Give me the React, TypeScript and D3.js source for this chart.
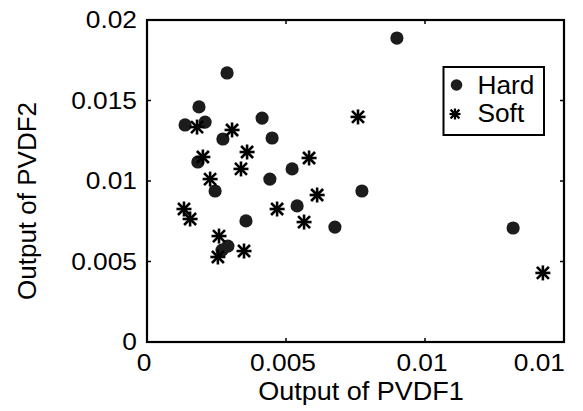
import React from "react";
import * as d3 from "d3";

const hardX = [0.00899, 0.00288, 0.00187, 0.00137, 0.00209, 0.00414, 0.0045, 0.00273, 0.00183, 0.00522, 0.00442, 0.00245, 0.00773, 0.0054, 0.00356, 0.00676, 0.01317, 0.00291, 0.0027];
const hardY = [0.01888, 0.01671, 0.0146, 0.01348, 0.01366, 0.01391, 0.01267, 0.01261, 0.01118, 0.01075, 0.01012, 0.00938, 0.00938, 0.00845, 0.00752, 0.00714, 0.00708, 0.00596, 0.00571];
const softX = [0.00759, 0.0018, 0.00306, 0.0036, 0.00201, 0.00583, 0.00338, 0.00227, 0.00612, 0.00468, 0.00133, 0.00155, 0.00565, 0.00259, 0.00349, 0.00255, 0.01424];
const softY = [0.01398, 0.01335, 0.01317, 0.0118, 0.01149, 0.01143, 0.01075, 0.01012, 0.00913, 0.00826, 0.00826, 0.00764, 0.00745, 0.00658, 0.00565, 0.00528, 0.00429];

const xTickValues = [0, 0.005, 0.01, 0.015];
const xTickLabels = ["0", "0.005", "0.01", "0.01"];
const yTickValues = [0, 0.005, 0.01, 0.015, 0.02];
const yTickLabels = ["0", "0.005", "0.01", "0.015", "0.02"];
const seriesNames = ["Hard", "Soft"];
const xLabel = "Output of PVDF1";
const yLabel = "Output of PVDF2";

const W = 583;
const H = 411;
const L = 147, R = 564, T = 20, B = 342;
const FONT = "'Liberation Sans', Arial, Helvetica, sans-serif";

function Asterisk({ cx, cy, s, sw }: { cx: number; cy: number; s: number; sw: number }) {
  const d = s * 0.8;
  return (
    <g stroke="#000" strokeWidth={sw} strokeLinecap="butt">
      <line x1={cx - s} y1={cy} x2={cx + s} y2={cy} />
      <line x1={cx} y1={cy - s} x2={cx} y2={cy + s} />
      <line x1={cx - d} y1={cy - d} x2={cx + d} y2={cy + d} />
      <line x1={cx - d} y1={cy + d} x2={cx + d} y2={cy - d} />
    </g>
  );
}

function SText({ x, y, sx, anchor, size, children, dy }: { x: number; y: number; sx: number; anchor?: string; size: number; children: any; dy?: string }) {
  return (
    <g transform={`translate(${x},${y}) scale(${sx},1)`}>
      <text x={0} y={0} dy={dy} textAnchor={anchor || "start"} fontSize={size} fill="#000">{children}</text>
    </g>
  );
}

export default function App() {
  const x = d3.scaleLinear().domain([0, 0.015]).range([L, R]);
  const y = d3.scaleLinear().domain([0, 0.02]).range([B, T]);
  const tl = 4;
  const hard = hardX.map((v, i) => ({ x: v, y: hardY[i] }));
  const soft = softX.map((v, i) => ({ x: v, y: softY[i] }));

  return (
    <svg width={W} height={H} style={{ position: "absolute", left: 0, top: 0, background: "#fff" }} fontFamily={FONT}>
      <rect x={0} y={0} width={W} height={H} fill="#fff" />
      {xTickValues.slice(1, -1).map((v, i) => (
        <g key={"xt" + i} stroke="#000" strokeWidth={1.5}>
          <line x1={x(v)} x2={x(v)} y1={B} y2={B - tl} />
          <line x1={x(v)} x2={x(v)} y1={T} y2={T + tl} />
        </g>
      ))}
      {yTickValues.slice(1, -1).map((v, i) => (
        <g key={"yt" + i} stroke="#000" strokeWidth={1.5}>
          <line x1={L} x2={L + tl} y1={y(v)} y2={y(v)} />
          <line x1={R} x2={R - tl} y1={y(v)} y2={y(v)} />
        </g>
      ))}
      <rect x={L} y={T} width={R - L} height={B - T} fill="none" stroke="#000" strokeWidth={2.2} />
      {xTickValues.map((v, i) => {
        const last = i === xTickValues.length - 1;
        return (
          <SText key={"xl" + i} x={last ? x(v) + 1 : x(v) - 3} y={371} sx={1.12} anchor={last ? "end" : "middle"} size={23.5}>
            {xTickLabels[i]}
          </SText>
        );
      })}
      {yTickValues.map((v, i) => (
        <SText key={"yl" + i} x={137} y={y(v)} dy="0.36em" sx={1.12} anchor="end" size={23.5}>
          {yTickLabels[i]}
        </SText>
      ))}
      <SText x={361} y={400} sx={1.06} anchor="middle" size={25.5}>{xLabel}</SText>
      <g transform={`translate(36,${201}) rotate(-90)`}>
        <text x={0} y={0} textAnchor="middle" fontSize={26} fill="#000">{yLabel}</text>
      </g>
      {hard.map((d, i) => (
        <circle key={"h" + i} cx={x(d.x)} cy={y(d.y)} r={6.6} fill="#1c1c1c" />
      ))}
      {soft.map((d, i) => (
        <Asterisk key={"s" + i} cx={x(d.x)} cy={y(d.y)} s={7.5} sw={2.6} />
      ))}
      <rect x={443.5} y={67} width={100.5} height={68} fill="#fff" stroke="#000" strokeWidth={2} />
      <circle cx={456.5} cy={85} r={5.8} fill="#1c1c1c" />
      <SText x={477.5} y={94} sx={1.05} size={25}>{seriesNames[0]}</SText>
      <Asterisk cx={455} cy={114} s={5.5} sw={2.2} />
      <SText x={477.5} y={122} sx={1.05} size={25}>{seriesNames[1]}</SText>
    </svg>
  );
}
